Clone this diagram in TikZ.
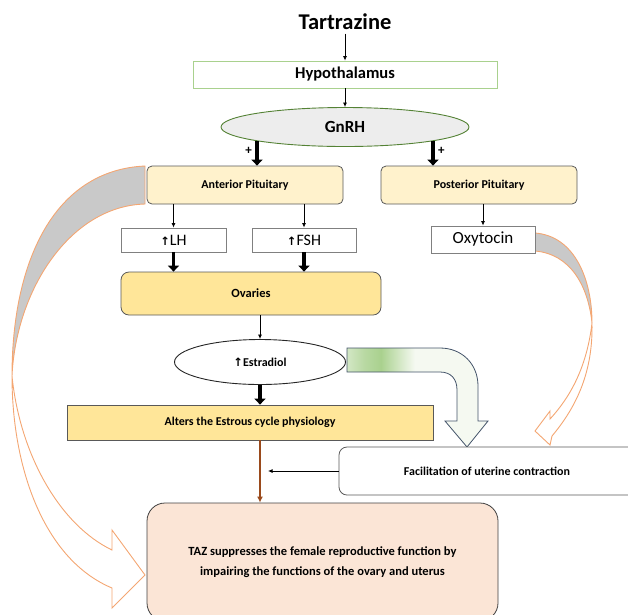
\documentclass[tikz,border=0pt]{standalone}
\usepackage{fontspec}
\setmainfont{Carlito}
\newfontfamily\symfont{DejaVu Sans}
\usetikzlibrary{shapes.geometric,arrows.meta}
\definecolor{hypgreen}{HTML}{A9D18E}
\definecolor{gnrhgreen}{HTML}{548235}
\definecolor{gnrhfill}{HTML}{EDEDED}
\definecolor{pitfill}{HTML}{FFF2CC}
\definecolor{ovfill}{HTML}{FFE699}
\definecolor{tazfill}{HTML}{FBE5D6}
\definecolor{boxline}{HTML}{595959}
\definecolor{orline}{HTML}{F4A672}
\definecolor{orgray}{HTML}{C9C9C9}
\definecolor{brownline}{HTML}{9A4A1C}
\definecolor{bluegray}{HTML}{44546A}
\definecolor{fadeA}{HTML}{D3E7C5}
\definecolor{fadeB}{HTML}{B9D9A3}
\definecolor{fadeC}{HTML}{A9D18E}
\definecolor{fadeD}{HTML}{F5F9F1}
\pgfdeclarehorizontalshading{greenfade}{100bp}{color(0bp)=(fadeA); color(25bp)=(fadeA); color(31bp)=(fadeB); color(37bp)=(fadeC); color(49bp)=(fadeD); color(100bp)=(fadeD)}
\tikzset{
  box/.style={draw=boxline, line width=0.8pt, inner sep=0pt, align=center},
  pitbox/.style={box, fill=pitfill, rounded corners=5pt, minimum width=196pt, minimum height=38pt,
    font=\bfseries\fontsize{12}{14}\selectfont},
  hormbox/.style={box, draw=gray, fill=white, minimum width=104pt, minimum height=24pt,
    font=\fontsize{16}{18}\selectfont},
  thinarrow/.style={-{Latex[length=4.5pt,width=4pt]}, line width=0.8pt},
  fatarrow/.style={-{Triangle[length=6pt,width=11pt]}, line width=3.6pt},
  orangeband/.style={draw=orline, line width=0.9pt}
}
\newcommand{\uparr}{{\symfont\bfseries\fontsize{11.5}{12}\selectfont ↑}}
\begin{document}
\begin{tikzpicture}[x=1pt, y=-1pt]
    \useasboundingbox (0,0) rectangle (628,614);
    \filldraw[orangeband, fill=orgray] (145,166) .. controls (55,170) and (12,260) .. (12,376)
      .. controls (16,290) and (70,206) .. (145,204) -- cycle;
    \filldraw[orangeband, fill=white] (12,376) .. controls (12,470) and (45,560) .. (112,588)
      -- (112,608) -- (145,575) -- (112,530) -- (112,550)
      .. controls (60,525) and (20,455) .. (12,376) -- cycle;
    \filldraw[orangeband, fill=orgray] (535,233) .. controls (575,236) and (592,280) .. (592,323)
      .. controls (588,285) and (570,254) .. (535,251) -- cycle;
    \filldraw[orangeband, fill=white] (592,323) .. controls (593,370) and (578,405) .. (552,436)
      -- (550,445) -- (535,431) -- (550,411) -- (550,419)
      .. controls (572,395) and (587,365) .. (592,323) -- cycle;
    \shadedraw[shading=greenfade, draw=bluegray, line width=0.8pt] (347,348) -- (440,348)
      .. controls (462,348) and (478,364) .. (478,386) -- (478,421) -- (488,421) -- (467,447)
      -- (445,421) -- (457,421) -- (457,390) .. controls (457,379) and (451,372) .. (440,372)
      -- (347,372) -- cycle;

    \node (taz) at (345,22) {\bfseries\fontsize{22.5}{26}\selectfont Tartrazine};
    \node[box, draw=hypgreen, fill=white, minimum width=304pt, minimum height=27pt,
      font=\bfseries\fontsize{16.5}{19}\selectfont] (hyp) at (345,74.5) {Hypothalamus};
    \node[ellipse, draw=gnrhgreen, line width=0.9pt, fill=gnrhfill, inner sep=0pt,
      minimum width=248pt, minimum height=39pt, font=\bfseries\fontsize{17}{20}\selectfont]
      (gnrh) at (345,127) {GnRH};
    \node[pitbox] (ant) at (245,185) {Anterior Pituitary};
    \node[pitbox] (post) at (479,185) {Posterior Pituitary};
    \node[hormbox, minimum width=105pt] (lh) at (173.5,240) {\uparr LH};
    \node[hormbox] (fsh) at (304,240) {\uparr FSH};
    \node[hormbox, minimum height=27pt, font=\fontsize{17}{19}\selectfont] (oxy) at (483,239.5) {Oxytocin};
    \node[box, fill=ovfill, rounded corners=8pt, minimum width=260pt, minimum height=43pt,
      font=\bfseries\fontsize{12.5}{14}\selectfont] (ov) at (251,293.5) {Ovaries};
    \node[ellipse, draw=black!85, line width=0.9pt, fill=white, inner sep=0pt,
      minimum width=171pt, minimum height=45pt, font=\bfseries\fontsize{12}{14}\selectfont]
      (est) at (260,362) {\uparr Estradiol};
    \node[box, fill=ovfill, minimum width=366pt, minimum height=35pt,
      font=\bfseries\fontsize{12}{14}\selectfont] (alt) at (250,422.5) {Alters the Estrous cycle physiology};
    \node[box, fill=white, rounded corners=8pt, minimum width=301pt, minimum height=48pt,
      font=\bfseries\fontsize{12}{14}\selectfont] (fac) at (489.5,471) {Facilitation of uterine contraction\hspace*{5pt}};
    \node[box, draw=black!75, fill=tazfill, rounded corners=18pt, minimum width=351pt, minimum height=118pt,
      font=\bfseries\fontsize{12.5}{20}\selectfont] (sup) at (322.5,562)
      {TAZ suppresses the female reproductive function by\\impairing the functions of the ovary and uterus};
    \coordinate (j) at (est.south |- fac.west);

    \draw [thinarrow] (taz) -- (hyp);
    \draw [thinarrow] (hyp) -- (gnrh);
    \draw [fatarrow] (gnrh.south west) -- node[left, pos=0.4, font=\bfseries\fontsize{13}{13}\selectfont] {+} (gnrh.south west |- ant.north);
    \draw [fatarrow] (gnrh.south east) -- node[right, pos=0.4, font=\bfseries\fontsize{13}{13}\selectfont] {+} (gnrh.south east |- post.north);
    \draw [thinarrow] (lh.north |- ant.south) -- (lh.north);
    \draw [thinarrow] (fsh.north |- ant.south) -- (fsh.north);
    \draw [thinarrow] (oxy.north |- post.south) -- (oxy.north);
    \draw [fatarrow] (lh.south) -- (lh.south |- ov.north);
    \draw [fatarrow] (fsh.south) -- (fsh.south |- ov.north);
    \draw [thinarrow] (est.north |- ov.south) -- (est.north);
    \draw [fatarrow] (est.south) -- (est.south |- alt.north);
    \draw [thinarrow, draw=brownline, line width=1.4pt, -{Latex[length=6pt,width=6pt]}] (est.south |- alt.south) -- (est.south |- sup.north);
    \draw [thinarrow, shorten >=8pt] (fac.west) -- (j);
\end{tikzpicture}
\end{document}
